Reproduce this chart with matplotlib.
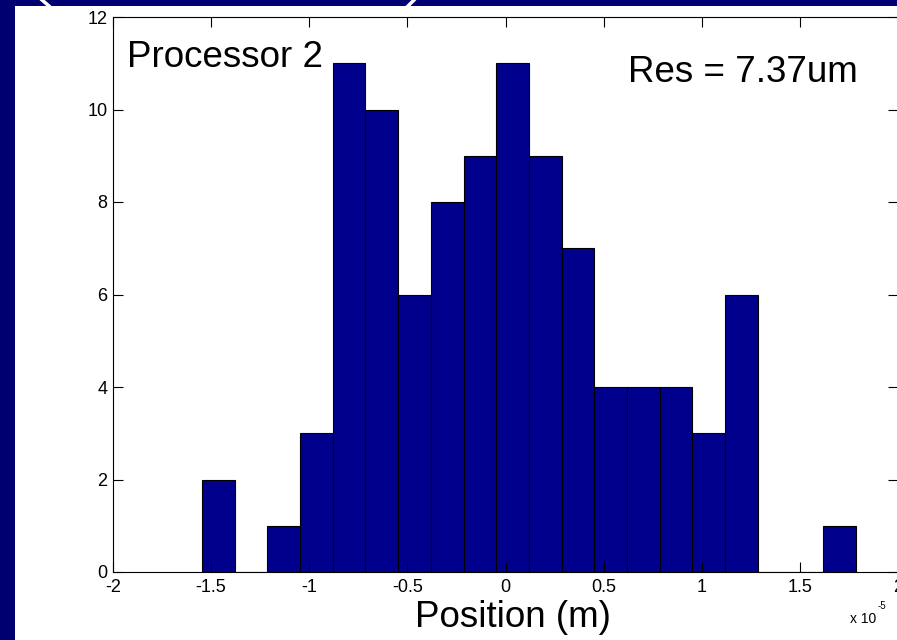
import matplotlib.pyplot as plt
import numpy as np
from matplotlib.patches import Rectangle
from matplotlib.lines import Line2D

plt.rcParams['font.family'] = ['Liberation Sans', 'DejaVu Sans']

# histogram of positions, x in units of 1e-5 m
bin_edges = np.linspace(-1.547, 1.786, 21)
counts = [2, 0, 1, 3, 11, 10, 6, 8, 9, 11, 9, 7, 4, 4, 4, 3, 6, 0, 0, 1]
xticks = [-2, -1.5, -1, -0.5, 0, 0.5, 1, 1.5, 2]
xticklabels = ['-2', '-1.5', '-1', '-0.5', '0', '0.5', '1', '1.5', '2']
yticks = [0, 2, 4, 6, 8, 10, 12]

W, H = 897, 640
fig = plt.figure(figsize=(W / 100, H / 100), dpi=100)
fig.patch.set_facecolor('#000070')

# white slide panel (behind the axes)
fig.patches.append(Rectangle((15 / W, 0), (W - 15) / W, (H - 6) / H,
                             transform=fig.transFigure, facecolor='white',
                             edgecolor='none', zorder=-2))
# little bits of the slide outline at the top
fig.lines.append(Line2D([42 / W, 49 / W], [1, 1 - 6 / H], transform=fig.transFigure,
                        color='white', lw=2.5, zorder=-1))
fig.lines.append(Line2D([414 / W, 408 / W], [1, 1 - 6 / H], transform=fig.transFigure,
                        color='white', lw=2.5, zorder=-1))

ax = fig.add_axes([113 / W, 68 / H, (W - 113 + 1) / W, (572 - 17) / H])
ax.set_facecolor('white')
ax.bar(bin_edges[:-1], counts, width=np.diff(bin_edges), align='edge',
       color='#00008c', edgecolor='black', linewidth=0.8)

ax.set_xlim(-2, 2)
ax.set_ylim(0, 12)
ax.set_xticks(xticks)
ax.set_xticklabels(xticklabels)
ax.set_yticks(yticks)
ax.tick_params(direction='in', length=7, width=0.8, labelsize=13, pad=4,
               top=True, right=True, colors='black')
ax.tick_params(axis='x', pad=5)
for s in ax.spines.values():
    s.set_linewidth(0.8)

ax.text(-1.929, 10.92, 'Processor 2', fontsize=26.5, va='baseline', ha='left')
ax.text(0.622, 10.59, 'Res = 7.37um', fontsize=26.5, va='baseline', ha='left')

fig.text(512.5 / W, 13 / H, 'Position (m)', fontsize=26.5, va='baseline', ha='center')
fig.text(850 / W, 17 / H, 'x 10', fontsize=10, va='baseline', ha='left')
fig.text(878 / W, 31 / H, '-5', fontsize=7, va='baseline', ha='left')

fig.savefig('out.png', dpi=100, facecolor=fig.get_facecolor())
